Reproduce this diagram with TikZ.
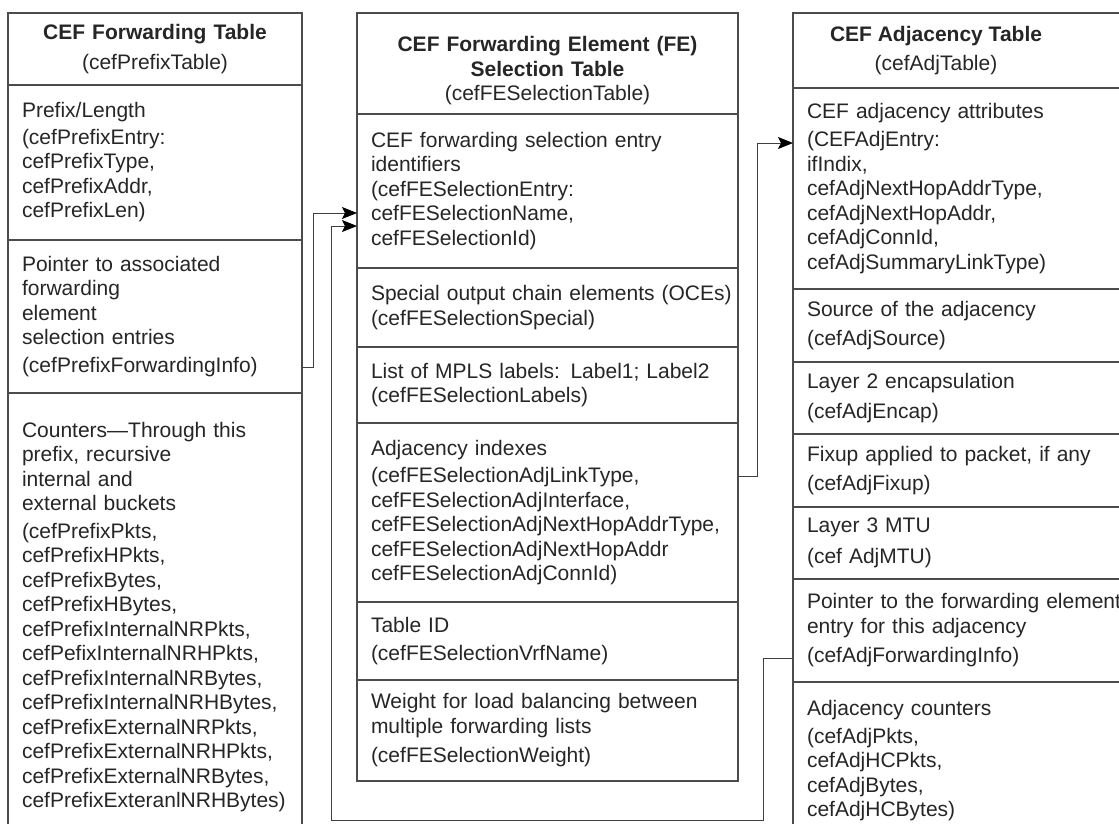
\documentclass[tikz,border=0pt]{standalone}
\usepackage{fontspec}
\setmainfont{Liberation Sans}
\usetikzlibrary{arrows.meta,positioning}
\newcommand{\cellfont}{\fontsize{21pt}{24.5pt}\selectfont}
\tikzset{
  cell/.style={draw=black!70,line width=1.2pt,outer sep=0pt,inner xsep=14pt,
    inner ysep=3pt,align=left,font=\cellfont,text=black!85},
  pfxcell/.style={cell,text width=266pt},
  fecell/.style={cell,text width=353pt},
  adjcell/.style={cell,text width=319pt},
  head/.style={align=center},
  title/.style={align=center,font=\cellfont,text=black!85,inner sep=0pt},
  link/.style={draw=black!75,line width=1pt,-{Stealth[length=15pt,width=12pt,inset=3pt,color=black]}}
}

\begin{document}
\begin{tikzpicture}[x=1pt,y=-1pt]
\useasboundingbox (0,0) rectangle (1119,823);
\fill[white] (0,0) rectangle (1119,823);
\clip (0,0) rectangle (1119,823);
% forwarding table
\node[pfxcell,head,minimum height=72pt,anchor=north west] (pfxHead) at (8,13)
  {\textbf{CEF Forwarding Table}\\[5pt](cefPrefixTable)};
\node[pfxcell,minimum height=155pt,below=0pt of pfxHead] (pfxLen)
  {Prefix/Length\\[2pt](cefPrefixEntry:\\cefPrefixType,\\cefPrefixAddr,\\cefPrefixLen)};
\node[pfxcell,minimum height=153pt,below=0pt of pfxLen] (pfxPtr)
  {Pointer to associated\\forwarding\\element\\selection entries\\[3pt](cefPrefixForwardingInfo)};
\node[pfxcell,minimum height=448pt,below=0pt of pfxPtr] (pfxCnt)
  {Counters---Through this\\prefix, recursive\\internal and\\external buckets\\[3pt]%
   (cefPrefixPkts,\\cefPrefixHPkts,\\cefPrefixBytes,\\cefPrefixHBytes,\\%
   cefPrefixInternalNRPkts,\\cefPefixInternalNRHPkts,\\cefPrefixInternalNRBytes,\\%
   cefPrefixInternalNRHBytes,\\cefPrefixExternalNRPkts,\\cefPrefixExternalNRHPkts,\\%
   cefPrefixExternalNRBytes,\\cefPrefixExteranlNRHBytes)};
% FE selection table
\node[fecell,head,minimum height=101pt,anchor=north west] (feHead) at (357,13)
  {\rule{0pt}{30pt}\textbf{CEF Forwarding Element (FE)}\\\textbf{Selection Table}\\(cefFESelectionTable)};
\node[fecell,minimum height=154pt,below=0pt of feHead] (feEnt)
  {CEF forwarding selection entry\\identifiers\\(cefFESelectionEntry:\\cefFESelectionName,\\cefFESelectionId)};
\node[fecell,minimum height=79pt,below=0pt of feEnt] (feSpc)
  {\mbox{Special output chain elements (OCEs)}\\(cefFESelectionSpecial)};
\node[fecell,minimum height=76pt,below=0pt of feSpc] (feLab)
  {List of MPLS labels: Label1; Label2\\(cefFESelectionLabels)};
\node[fecell,minimum height=179pt,below=0pt of feLab] (feAdj)
  {Adjacency indexes\\[3pt](cefFESelectionAdjLinkType,\\cefFESelectionAdjInterface,\\%
   cefFESelectionAdjNextHopAddrType,\\cefFESelectionAdjNextHopAddr\\cefFESelectionAdjConnId)};
\node[fecell,minimum height=78pt,below=0pt of feAdj] (feTid)
  {Table ID\\[3pt](cefFESelectionVrfName)};
\node[fecell,minimum height=101pt,below=0pt of feTid] (feWgt)
  {Weight for load balancing between\\multiple forwarding lists\\[5pt](cefFESelectionWeight)};
% adjacency table
\node[adjcell,minimum height=75pt,anchor=north west] (adjHead) at (793,13) {};
\node[title] (adjTitle) at ([xshift=143pt]adjHead.west)
  {\textbf{CEF Adjacency Table}\\[5pt](cefAdjTable)};
\node[adjcell,minimum height=201pt,below=0pt of adjHead] (adjAttr)
  {CEF adjacency attributes\\[4pt](CEFAdjEntry:\\ifIndix,\\cefAdjNextHopAddrType,\\%
   cefAdjNextHopAddr,\\cefAdjConnId,\\cefAdjSummaryLinkType)};
\node[adjcell,minimum height=73pt,below=0pt of adjAttr] (adjSrc)
  {Source of the adjacency\\[5pt](cefAdjSource)};
\node[adjcell,minimum height=72pt,below=0pt of adjSrc] (adjEnc)
  {Layer 2 encapsulation\\[5pt](cefAdjEncap)};
\node[adjcell,minimum height=73pt,below=0pt of adjEnc] (adjFix)
  {Fixup applied to packet, if any\\[5pt](cefAdjFixup)};
\node[adjcell,minimum height=72pt,below=0pt of adjFix] (adjMtu)
  {Layer 3 MTU\\[6pt](cef AdjMTU)};
\node[adjcell,minimum height=103pt,below=0pt of adjMtu] (adjPtr)
  {Pointer to the forwarding element\\entry for this adjacency\\[5pt](cefAdjForwardingInfo)};
\node[adjcell,minimum height=158pt,below=0pt of adjPtr] (adjCnt)
  {Adjacency counters\\[3pt](cefAdjPkts,\\cefAdjHCPkts,\\cefAdjBytes,\\cefAdjHCBytes)};
% pointers between the tables
\draw[link] ([yshift=26pt]pfxPtr.south east) -- ++(11,0) |- ([yshift=55pt]feEnt.south west);
\draw[link] ([yshift=24pt]adjPtr.south west) -- ++(-30,0) -- ++(0,162)
  -| ([xshift=-26pt,yshift=42pt]feEnt.south west) -- ([yshift=42pt]feEnt.south west);
\draw[link] ([yshift=-53pt]feAdj.north east) -- ++(19,0) |- ([yshift=-55pt]adjAttr.north west);
\end{tikzpicture}
\end{document}
